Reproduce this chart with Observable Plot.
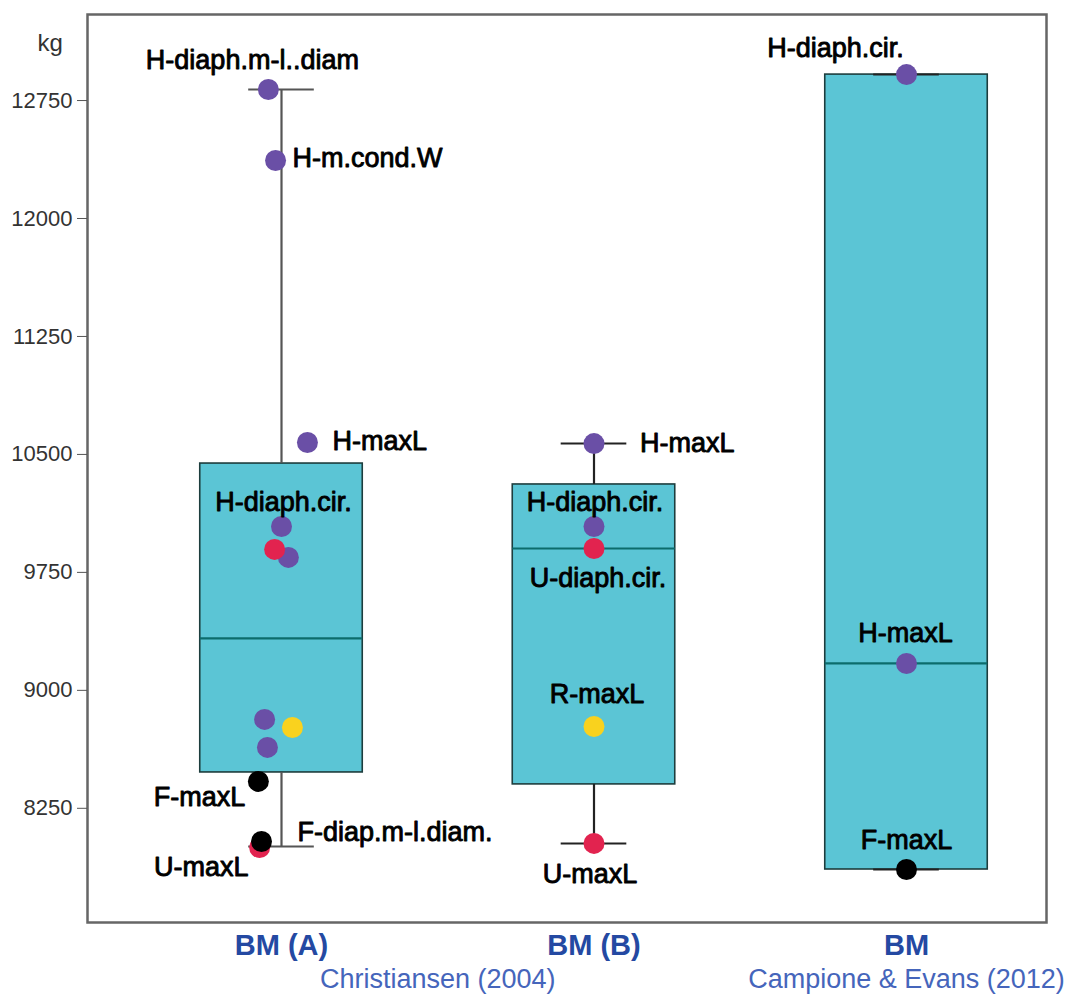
<!DOCTYPE html>
<html><head><meta charset="utf-8">
<script src="https://cdn.jsdelivr.net/npm/d3@7"></script>
<script src="https://cdn.jsdelivr.net/npm/@observablehq/plot@0.6"></script>
<style>body{margin:0;background:#fff;} svg{display:block}</style>
</head><body><div id="chart"></div>
<script>
// ---- data ----
const groups = ["BM (A)", "BM (B)", "BM"];
const sources = ["Christiansen (2004)", "Campione & Evans (2012)"];
const sourceCenter = [0.5, 2];           // group position each source label sits under
const q1 = [8478, 8402, 7861];
const median = [9330, 9902, 9171];
const q3 = [10442, 10309, 12915];
const whiskerLo = [8007, 8027, 7861];
const whiskerHi = [12820, 10569, 12915];
const yTicks = [8250, 9000, 9750, 10500, 11250, 12000, 12750];

const pointGroup = [0,0,0,0,0,0,0,0,0,0,0,0, 1,1,1,1,1, 2,2,2];
const pointValue = [12820,12369,10576,10042,9845,9896,8815,8764,8637,8421,8001,8039, 10569,10042,9902,8770,8027, 12915,9171,7861];
const pointJitter = [-0.042,-0.019,0.083,0,0.022,-0.022,-0.054,0.035,-0.045,-0.074,-0.070,-0.064, 0,0,0,0,0, 0,0,0];
const pointBone = ["H","H","H","H","H","U","H","R","H","F","U","F", "H","H","U","R","U", "H","H","F"];
const pointLabel = ["H-diaph.m-l..diam","H-m.cond.W","H-maxL","H-diaph.cir.","","","","","","F-maxL","U-maxL","F-diap.m-l.diam.",
                    "H-maxL","H-diaph.cir.","U-diaph.cir.","R-maxL","U-maxL",
                    "H-diaph.cir.","H-maxL","F-maxL"];
const bones = ["H","U","R","F"];
const boneColors = ["#6a4fa6","#e2234f","#f9d21e","#000000"];

// ---- layout (label placement relative to its point, in px) ----
const labelLayout = {
  0:["middle",-16,-29], 1:["start",17,-2], 2:["start",25,-1], 3:["middle",2,-24],
  9:["end",-13,16], 10:["end",-11,20], 11:["start",36,-9],
  12:["start",46,0], 13:["middle",1,-24], 14:["middle",4,30], 15:["middle",3,-32], 16:["middle",-4,31],
  17:["middle",-71,-26], 18:["middle",-1,-30], 19:["middle",0,-29]
};

const gi = groups.map((_, i) => i);
const pi = pointValue.map((_, i) => i);
const HW = 0.26, CAP = 0.105;
const font = "'Liberation Sans', Arial, sans-serif";
const whiskerColor = ["#555", "#222", "#222"];

const labelMarks = Object.entries(labelLayout).map(([k, [anchor, dx, dy]]) => {
  const i = +k;
  return Plot.text([i], {
    x: j => pointGroup[j] + pointJitter[j], y: j => pointValue[j], text: j => pointLabel[j],
    textAnchor: anchor, lineAnchor: "middle", dx, dy,
    fontSize: 27, fill: "#000", stroke: "#000", strokeWidth: 0.9, fontFamily: font
  });
});

const chart = Plot.plot({
  width: 1067, height: 994,
  marginLeft: 87, marginRight: 21, marginTop: 14, marginBottom: 72,
  style: {fontFamily: font, background: "#fff", color: "#333", overflow: "visible"},
  x: {domain: [-0.6208, 2.4480], axis: null},
  y: {domain: [7524, 13297], axis: null},
  color: {domain: bones, range: boneColors},
  marks: [
    Plot.rect(gi, {x1: i => i - HW, x2: i => i + HW, y1: i => q1[i], y2: i => q3[i],
      fill: "#5bc5d5", stroke: "#1d3d3d", strokeWidth: 1.6}),
    Plot.ruleY(gi, {x1: i => i - HW, x2: i => i + HW, y: i => median[i], stroke: "#0c6c6c", strokeWidth: 2.2}),
    Plot.ruleX(gi, {x: i => i, y1: i => whiskerLo[i], y2: i => q1[i], stroke: i => whiskerColor[i], strokeWidth: 2.2}),
    Plot.ruleX(gi, {x: i => i, y1: i => q3[i], y2: i => whiskerHi[i], stroke: i => whiskerColor[i], strokeWidth: 2.2}),
    Plot.ruleY(gi, {x1: i => i - CAP, x2: i => i + CAP, y: i => whiskerLo[i], stroke: i => whiskerColor[i], strokeWidth: 2}),
    Plot.ruleY(gi, {x1: i => i - CAP, x2: i => i + CAP, y: i => whiskerHi[i], stroke: i => whiskerColor[i], strokeWidth: 2}),
    Plot.dot(pi, {x: i => pointGroup[i] + pointJitter[i], y: i => pointValue[i], fill: i => pointBone[i], r: 10.5}),
    ...labelMarks,
    Plot.frame({stroke: "#666", strokeWidth: 2.5}),
    Plot.axisY(yTicks, {tickSize: 10, tickPadding: 5, fontSize: 22, stroke: "#555", fill: "#333",
      tickFormat: d3.format("d"), label: null}),
    Plot.text(["kg"], {frameAnchor: "top-left", dx: -50, dy: 19, fontSize: 24, fill: "#333"}),
    Plot.text(gi, {x: i => i, text: i => groups[i], frameAnchor: "bottom", lineAnchor: "middle", dy: 23,
      fontSize: 29, fontWeight: "bold", fill: "#2449a2"}),
    Plot.text([0, 1], {x: i => sourceCenter[i], text: i => sources[i], frameAnchor: "bottom", lineAnchor: "middle", dy: 57,
      fontSize: 27, fill: "#4565bb"})
  ]
});
document.getElementById("chart").appendChild(chart);
</script>
</body></html>
